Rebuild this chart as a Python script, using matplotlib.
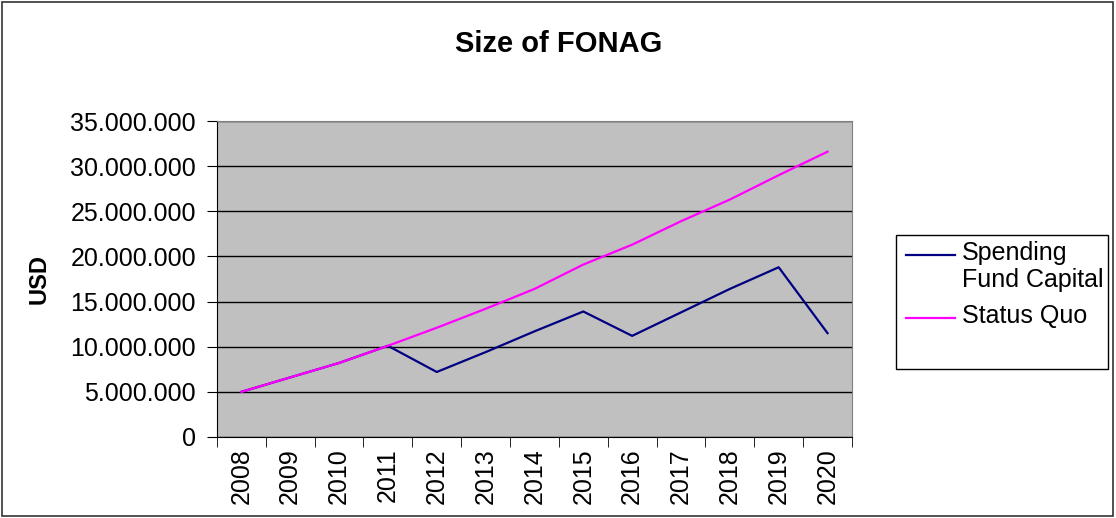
import matplotlib.pyplot as plt
from matplotlib.ticker import FuncFormatter, FixedLocator
from matplotlib.lines import Line2D
from matplotlib.patches import Rectangle

plt.rcParams['font.family'] = ['Liberation Sans', 'DejaVu Sans']

# data
years = ['2008', '2009', '2010', '2011', '2012', '2013', '2014',
         '2015', '2016', '2017', '2018', '2019', '2020']
spending = [5.0e6, 6.6e6, 8.2e6, 10.1e6, 7.2e6, 9.4e6, 11.7e6,
            13.9e6, 11.2e6, 13.8e6, 16.4e6, 18.8e6, 11.5e6]
status_quo = [5.0e6, 6.6e6, 8.2e6, 10.1e6, 12.1e6, 14.2e6, 16.4e6,
              19.1e6, 21.3e6, 23.9e6, 26.3e6, 29.0e6, 31.6e6]
series_names = ['Spending\nFund Capital', 'Status Quo']
series_colors = ['#000080', '#FF00FF']

W, H = 1116, 518
fig = plt.figure(figsize=(W / 100, H / 100), dpi=100)
fig.patch.set_facecolor('white')
fig.patches.append(Rectangle((0.002, 0.004), 0.995, 0.993, transform=fig.transFigure,
                             fill=False, edgecolor='#333333', linewidth=1.2))

ax = fig.add_axes([0.1944, 0.1564, 0.569, 0.61])
ax.set_facecolor('#C0C0C0')
for s in ax.spines.values():
    s.set_color('#808080')
ax.spines['left'].set_color('black')
ax.spines['bottom'].set_color('black')

x = list(range(len(years)))
ax.plot(x, spending, color=series_colors[0], lw=1.6)
ax.plot(x, status_quo, color=series_colors[1], lw=1.6)

ax.set_xlim(-0.5, len(years) - 0.5)
ax.set_ylim(0, 35e6)
ax.set_yticks([i * 5e6 for i in range(8)])
ax.yaxis.set_major_formatter(FuncFormatter(lambda v, p: f'{v:,.0f}'.replace(',', '.')))
ax.yaxis.grid(True, color='black', lw=1.0)
ax.set_axisbelow(True)

ax.set_xticks(x)
ax.set_xticklabels(years, rotation=90)
ax.tick_params(axis='x', which='major', length=0, labelsize=18, pad=8)
ax.xaxis.set_minor_locator(FixedLocator([i - 0.5 for i in range(len(years) + 1)]))
ax.tick_params(axis='x', which='minor', length=7, direction='out', color='black')
ax.tick_params(axis='y', length=7, direction='out', labelsize=18, pad=8)

ax.set_ylabel('USD', fontsize=17, fontweight='bold', labelpad=14)
fig.text(0.501, 0.915, 'Size of FONAG', ha='center', va='center',
         fontsize=21, fontweight='bold')

# legend box drawn like Excel (handle on the first text line)
fig.patches.append(Rectangle((896 / W, 1 - 369 / H), (1108 - 896) / W, (369 - 235) / H,
                             transform=fig.transFigure, fill=False,
                             edgecolor='black', linewidth=1.0))
handle_y = [255, 318]
for name, col, hy in zip(series_names, series_colors, handle_y):
    fig.add_artist(Line2D([906 / W, 955 / W], [1 - hy / H, 1 - hy / H],
                          transform=fig.transFigure, color=col, lw=1.6))
    fig.text(962 / W, 1 - (hy - 14) / H, name, ha='left', va='top',
             fontsize=18, linespacing=1.15)

fig.savefig('out.png', dpi=100)
